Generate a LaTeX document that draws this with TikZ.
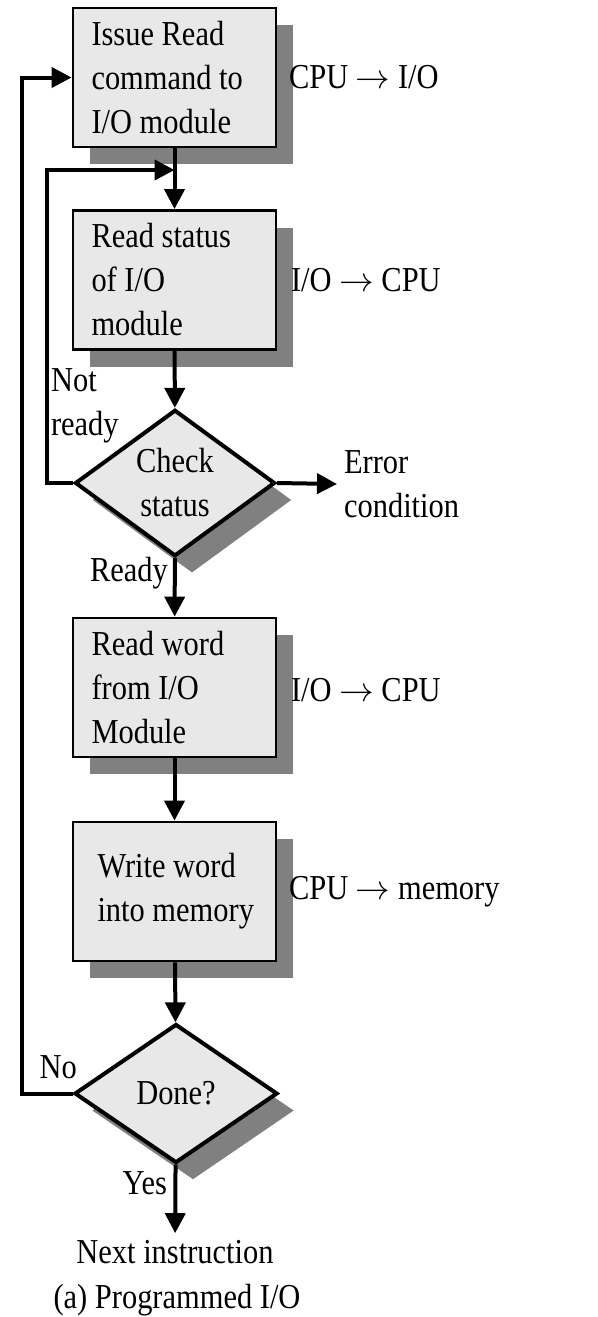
\documentclass[tikz,border=0pt]{standalone}
\usepackage{fontspec}
\setmainfont[FakeStretch=0.87]{Liberation Serif}
\usetikzlibrary{shapes.geometric,arrows.meta,shadows}

\begin{document}
\begin{tikzpicture}[x=0.5pt,y=0.5pt,
    font=\fontsize{17.5pt}{22pt}\selectfont,
    shade/.style={drop shadow={shadow xshift=8.5pt,shadow yshift=-8.5pt,fill=gray,opacity=1}},
    box/.style={draw,line width=1.4pt,fill=gray!18,minimum width=101.5pt,minimum height=69.5pt,
        text width=83pt,inner xsep=9.25pt,align=flush left,shade},
    decision/.style={diamond,draw,line width=2pt,fill=gray!18,minimum width=100pt,
        minimum height=69.5pt,inner sep=0pt,align=center,shade},
    flow/.style={line width=2pt,-{Triangle[length=10pt,width=10pt]}}
]
    \useasboundingbox (0,0) rectangle (598,-1317);
    \node[box] (issue) at (174.5,-77.5) {Issue Read\\command to\\I/O module};
    \node[box] (status) at (174.5,-280) {Read status\\of I/O\\module};
    \node[decision] (check) at (175,-483) {Check\\status};
    \node[box] (readword) at (174.5,-687.5) {Read word\\from I/O\\Module};
    \node[box] (writeword) at (174.5,-891.5) {\hspace*{3pt}Write word\\\hspace*{3pt}into memory};
    \node[decision,minimum width=101.5pt] (done) at (176,-1093.5) {Done?};

    \node[anchor=west] (cpuio) at (282,-77) {CPU $\rightarrow$ I/O};
    \node[anchor=west] (iocpu) at (284,-280) {I/O $\rightarrow$ CPU};
    \node[anchor=west] (iocpub) at (284,-690) {I/O $\rightarrow$ CPU};
    \node[anchor=west] (cpumem) at (282,-892) {CPU $\rightarrow$ memory};
    \node[anchor=west,align=left] (error) at (337,-484) {Error\\condition};
    \node[anchor=west,align=left] (notready) at (44,-406) {Not\\ready};
    \node[anchor=east] (ready) at (175,-573) {Ready};
    \node[anchor=east] (no) at (84,-1067) {No};
    \node[anchor=east] (yes) at (174,-1183) {Yes};
    \node (next) at (175,-1252) {Next instruction};
    \node (caption) at (177,-1300) {(a) Programmed I/O};
    \coordinate (join) at (174.5,-170);

    \draw[flow] (issue) -- (status);
    \draw[flow] (status) -- (check);
    \draw[flow] (check) -- (readword);
    \draw[flow] (readword) -- (writeword);
    \draw[flow] (writeword) -- (done);
    \draw[flow] (done) -- (next);
    \draw[flow] (check.east) -- (error.west);
    \draw[flow] (check.west) -- ++(-26,0) |- (join);
    \draw[flow] (done.west) -- ++(-51,0) |- (issue.west);
\end{tikzpicture}
\end{document}
